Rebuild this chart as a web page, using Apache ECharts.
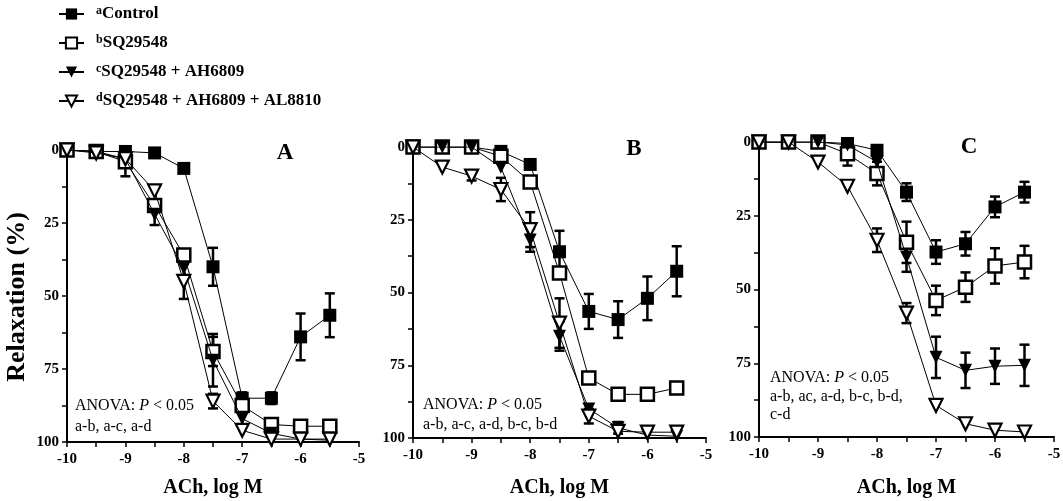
<!DOCTYPE html>
<html>
<head>
<meta charset="utf-8">
<script src="https://cdn.jsdelivr.net/npm/echarts@6/dist/echarts.min.js"></script>
<style>html,body{margin:0;padding:0;background:#fff}#c{width:1063px;height:501px}</style>
</head>
<body>
<div id="c"></div>
<script>
// ---- data ----
const logM = [-10, -9.5, -9, -8.5, -8, -7.5, -7, -6.5, -6, -5.5];
const xTicks = [-10, -9, -8, -7, -6, -5];
const yTicks = [0, 25, 50, 75, 100];
const seriesNames = ['Control', 'SQ29548', 'SQ29548 + AH6809', 'SQ29548 + AH6809 + AL8810'];
const seriesSup = ['a', 'b', 'c', 'd'];
const panelLabels = ['A', 'B', 'C'];

// Panel A
const ctrlA = [0, 0.5, 0.5, 1, 6.3, 40, 85, 85, 64, 56.6];
const ctrlAErr = [0, 0, 0, 0, 0, 6.5, 2, 2, 8, 7.5];
const sqA = [0, 0.5, 4, 19, 36, 69, 87.5, 94, 94.6, 94.6];
const sqAErr = [0, 0, 5, 0, 0, 5, 0, 0, 0, 0];
const ahA = [0, 0.5, 3, 22, 40.5, 72, 92, 97, 99, 99.4];
const ahAErr = [0, 0, 0, 3.7, 0, 9, 0, 0, 0, 0];
const alA = [0, 1, 3, 14, 45, 86, 96, 99, 99, 99];
const alAErr = [0, 0, 0, 0, 6, 2.5, 0, 0, 0, 0];

// Panel B
const ctrlB = [0, 0, 0, 1.5, 6, 36, 56.5, 59.3, 52, 42.7];
const ctrlBErr = [0, 0, 0, 0, 0, 7.2, 6, 6.3, 7.5, 8.6];
const sqB = [0, 0, 0, 3.2, 12, 43.3, 79.4, 85, 85, 82.8];
const sqBErr = [0, 0, 0, 0, 0, 0, 1.5, 0, 0, 0];
const ahB = [0, 0, 0, 7, 32, 65, 90, 96.5, 99, 99.4];
const ahBErr = [0, 0, 0, 0, 4, 5, 0, 2, 0, 0];
const alB = [0, 6.9, 10, 14.6, 28.4, 60.5, 92.5, 97.7, 98, 98];
const alBErr = [0, 0, 1.5, 4, 6, 8.5, 2.5, 0, 0, 0];

// Panel C
const ctrlC = [0, 0, 0, 0.5, 2.8, 17, 37.3, 34.5, 22, 17];
const ctrlCErr = [0, 0, 0, 0, 0, 3, 4, 4, 3.5, 3.5];
const sqC = [0, 0, 0, 4, 10.7, 34, 53.7, 49.2, 42, 40.7];
const sqCErr = [0, 0, 0, 4, 4, 7, 5, 5, 6, 5.5];
const ahC = [0, 0, 0, 1, 6.8, 39, 73, 77.4, 76, 75.7];
const ahCErr = [0, 0, 0, 0, 0, 5, 7, 6, 6, 7];
const alC = [0, 0, 6.8, 15, 33.3, 58, 89.3, 95.5, 97.7, 98.3];
const alCErr = [0, 0, 0, 0, 4, 3.4, 0, 0, 0, 0];

const anovaSig = [['a-b, a-c, a-d'], ['a-b, a-c, a-d, b-c, b-d'], ['a-b, ac, a-d, b-c, b-d,', 'c-d']];

const panels = [
  { vals: [ctrlA, sqA, ahA, alA], errs: [ctrlAErr, sqAErr, ahAErr, alAErr] },
  { vals: [ctrlB, sqB, ahB, alB], errs: [ctrlBErr, sqBErr, ahBErr, alBErr] },
  { vals: [ctrlC, sqC, ahC, alC], errs: [ctrlCErr, sqCErr, ahCErr, alCErr] }
];

// ---- layout / style ----
const SERIF = 'Liberation Serif';
const grids = [
  { left: 67, top: 150, width: 292, height: 292, containLabel: false, outerBoundsMode: 'none' },
  { left: 413, top: 147, width: 293, height: 291, containLabel: false, outerBoundsMode: 'none' },
  { left: 759, top: 142, width: 295, height: 295, containLabel: false, outerBoundsMode: 'none' }
];
const nameGaps = [36, 40, 41];
const symbolStyles = [
  { symbol: 'rect', rotate: 0, size: 13, itemStyle: { color: '#000', borderColor: '#000', borderWidth: 0 } },
  { symbol: 'rect', rotate: 0, size: 13, itemStyle: { color: '#fff', borderColor: '#000', borderWidth: 2.5 } },
  { symbol: 'triangle', rotate: 180, size: 13, itemStyle: { color: '#000', borderColor: '#000', borderWidth: 0 } },
  { symbol: 'triangle', rotate: 180, size: 13, itemStyle: { color: '#fff', borderColor: '#000', borderWidth: 2.2 } }
];

const xAxes = [], yAxes = [], series = [];
grids.forEach((g, gi) => {
  xAxes.push({
    gridIndex: gi, type: 'value', min: xTicks[0], max: xTicks[xTicks.length - 1], interval: 1,
    axisLine: { onZero: false, lineStyle: { color: '#000', width: 2 } },
    axisTick: { show: true, length: 5, lineStyle: { color: '#000', width: 1.5 } },
    minorTick: { show: true, splitNumber: 2, length: 5, lineStyle: { color: '#000', width: 1.5 } },
    splitLine: { show: false },
    axisLabel: { color: '#000', fontFamily: SERIF, fontWeight: 'bold', fontSize: 15, margin: 10 },
    name: 'ACh, log M', nameLocation: 'middle', nameGap: nameGaps[gi],
    nameTextStyle: { color: '#000', fontFamily: SERIF, fontWeight: 'bold', fontSize: 20 }
  });
  yAxes.push({
    gridIndex: gi, type: 'value', inverse: true, min: yTicks[0], max: yTicks[yTicks.length - 1], interval: 25,
    axisLine: { show: true, lineStyle: { color: '#000', width: 2 } },
    axisTick: { show: true, length: 5, lineStyle: { color: '#000', width: 1.5 } },
    minorTick: { show: true, splitNumber: 2, length: 5, lineStyle: { color: '#000', width: 1.5 } },
    splitLine: { show: false },
    axisLabel: { color: '#000', fontFamily: SERIF, fontWeight: 'bold', fontSize: 15, margin: 8 }
  });
  const p = panels[gi];
  p.vals.forEach((vals, si) => {
    const st = symbolStyles[si];
    const errData = [];
    logM.forEach((x, k) => { if (p.errs[si][k] > 0) errData.push([x, vals[k], p.errs[si][k]]); });
    series.push({
      type: 'custom', xAxisIndex: gi, yAxisIndex: gi, z: 2, silent: true,
      data: errData,
      renderItem: function (params, api) {
        const x = api.value(0), y = api.value(1), e = api.value(2);
        const top = api.coord([x, y - e]);
        const bot = api.coord([x, y + e]);
        const hw = 5;
        const style = { stroke: '#000', lineWidth: 2.5, fill: null };
        return {
          type: 'group',
          children: [
            { type: 'line', shape: { x1: top[0], y1: top[1], x2: bot[0], y2: bot[1] }, style: style },
            { type: 'line', shape: { x1: top[0] - hw, y1: top[1], x2: top[0] + hw, y2: top[1] }, style: style },
            { type: 'line', shape: { x1: bot[0] - hw, y1: bot[1], x2: bot[0] + hw, y2: bot[1] }, style: style }
          ]
        };
      }
    });
    series.push({
      name: seriesNames[si], type: 'line', xAxisIndex: gi, yAxisIndex: gi, z: 3 + si,
      data: logM.map((x, k) => [x, vals[k]]),
      symbol: st.symbol, symbolRotate: st.rotate, symbolSize: st.size,
      showAllSymbol: true,
      lineStyle: { color: '#000', width: 1 },
      itemStyle: st.itemStyle,
      emphasis: { disabled: true },
      animation: false
    });
  });
});

const graphics = [];
graphics.push({
  type: 'text', x: 17, y: 297, rotation: Math.PI / 2,
  style: { text: 'Relaxation (%)', fill: '#000', font: 'bold 26px "Liberation Serif"', textAlign: 'center', textVerticalAlign: 'middle' }
});
const letterPos = [[285, 153], [634, 149], [969, 147]];
panelLabels.forEach((t, i) => {
  graphics.push({
    type: 'text', x: letterPos[i][0], y: letterPos[i][1],
    style: { text: t, fill: '#000', font: 'bold 23px "Liberation Serif"', textAlign: 'center', textVerticalAlign: 'middle' }
  });
});
const anovaPos = [[75, 406, 21], [423, 405, 20], [770, 378, 18.5]];
anovaSig.forEach((lines, i) => {
  const [ax, ay, lh] = anovaPos[i];
  graphics.push({
    type: 'text', x: ax, y: ay,
    style: {
      text: 'ANOVA: {i|P} < 0.05', fill: '#000', font: '16px "Liberation Serif"',
      textVerticalAlign: 'middle',
      rich: { i: { fontStyle: 'italic', fontFamily: SERIF, fontSize: 16, fill: '#000' } }
    }
  });
  lines.forEach((l, j) => {
    graphics.push({
      type: 'text', x: ax, y: ay + lh * (j + 1),
      style: { text: l, fill: '#000', font: '16px "Liberation Serif"', textVerticalAlign: 'middle' }
    });
  });
});

const chart = echarts.init(document.getElementById('c'), null, { renderer: 'canvas' });
chart.setOption({
  animation: false,
  backgroundColor: '#fff',
  grid: grids,
  xAxis: xAxes,
  yAxis: yAxes,
  series: series,
  legend: {
    data: seriesNames, orient: 'vertical', left: 53, top: 0,
    itemWidth: 25, itemHeight: 14, itemGap: 11,
    selectedMode: false,
    formatter: function (name) { return '{s|' + seriesSup[seriesNames.indexOf(name)] + '}{t|' + name + '}'; },
    textStyle: {
      color: '#000', fontFamily: SERIF, fontWeight: 'bold', fontSize: 17,
      rich: {
        s: { fontFamily: SERIF, fontWeight: 'bold', fontSize: 12, verticalAlign: 'top', lineHeight: 18, padding: [0, 0, 6, 7] },
        t: { fontFamily: SERIF, fontWeight: 'bold', fontSize: 17, lineHeight: 18 }
      }
    }
  },
  graphic: graphics
});
</script>
</body>
</html>
